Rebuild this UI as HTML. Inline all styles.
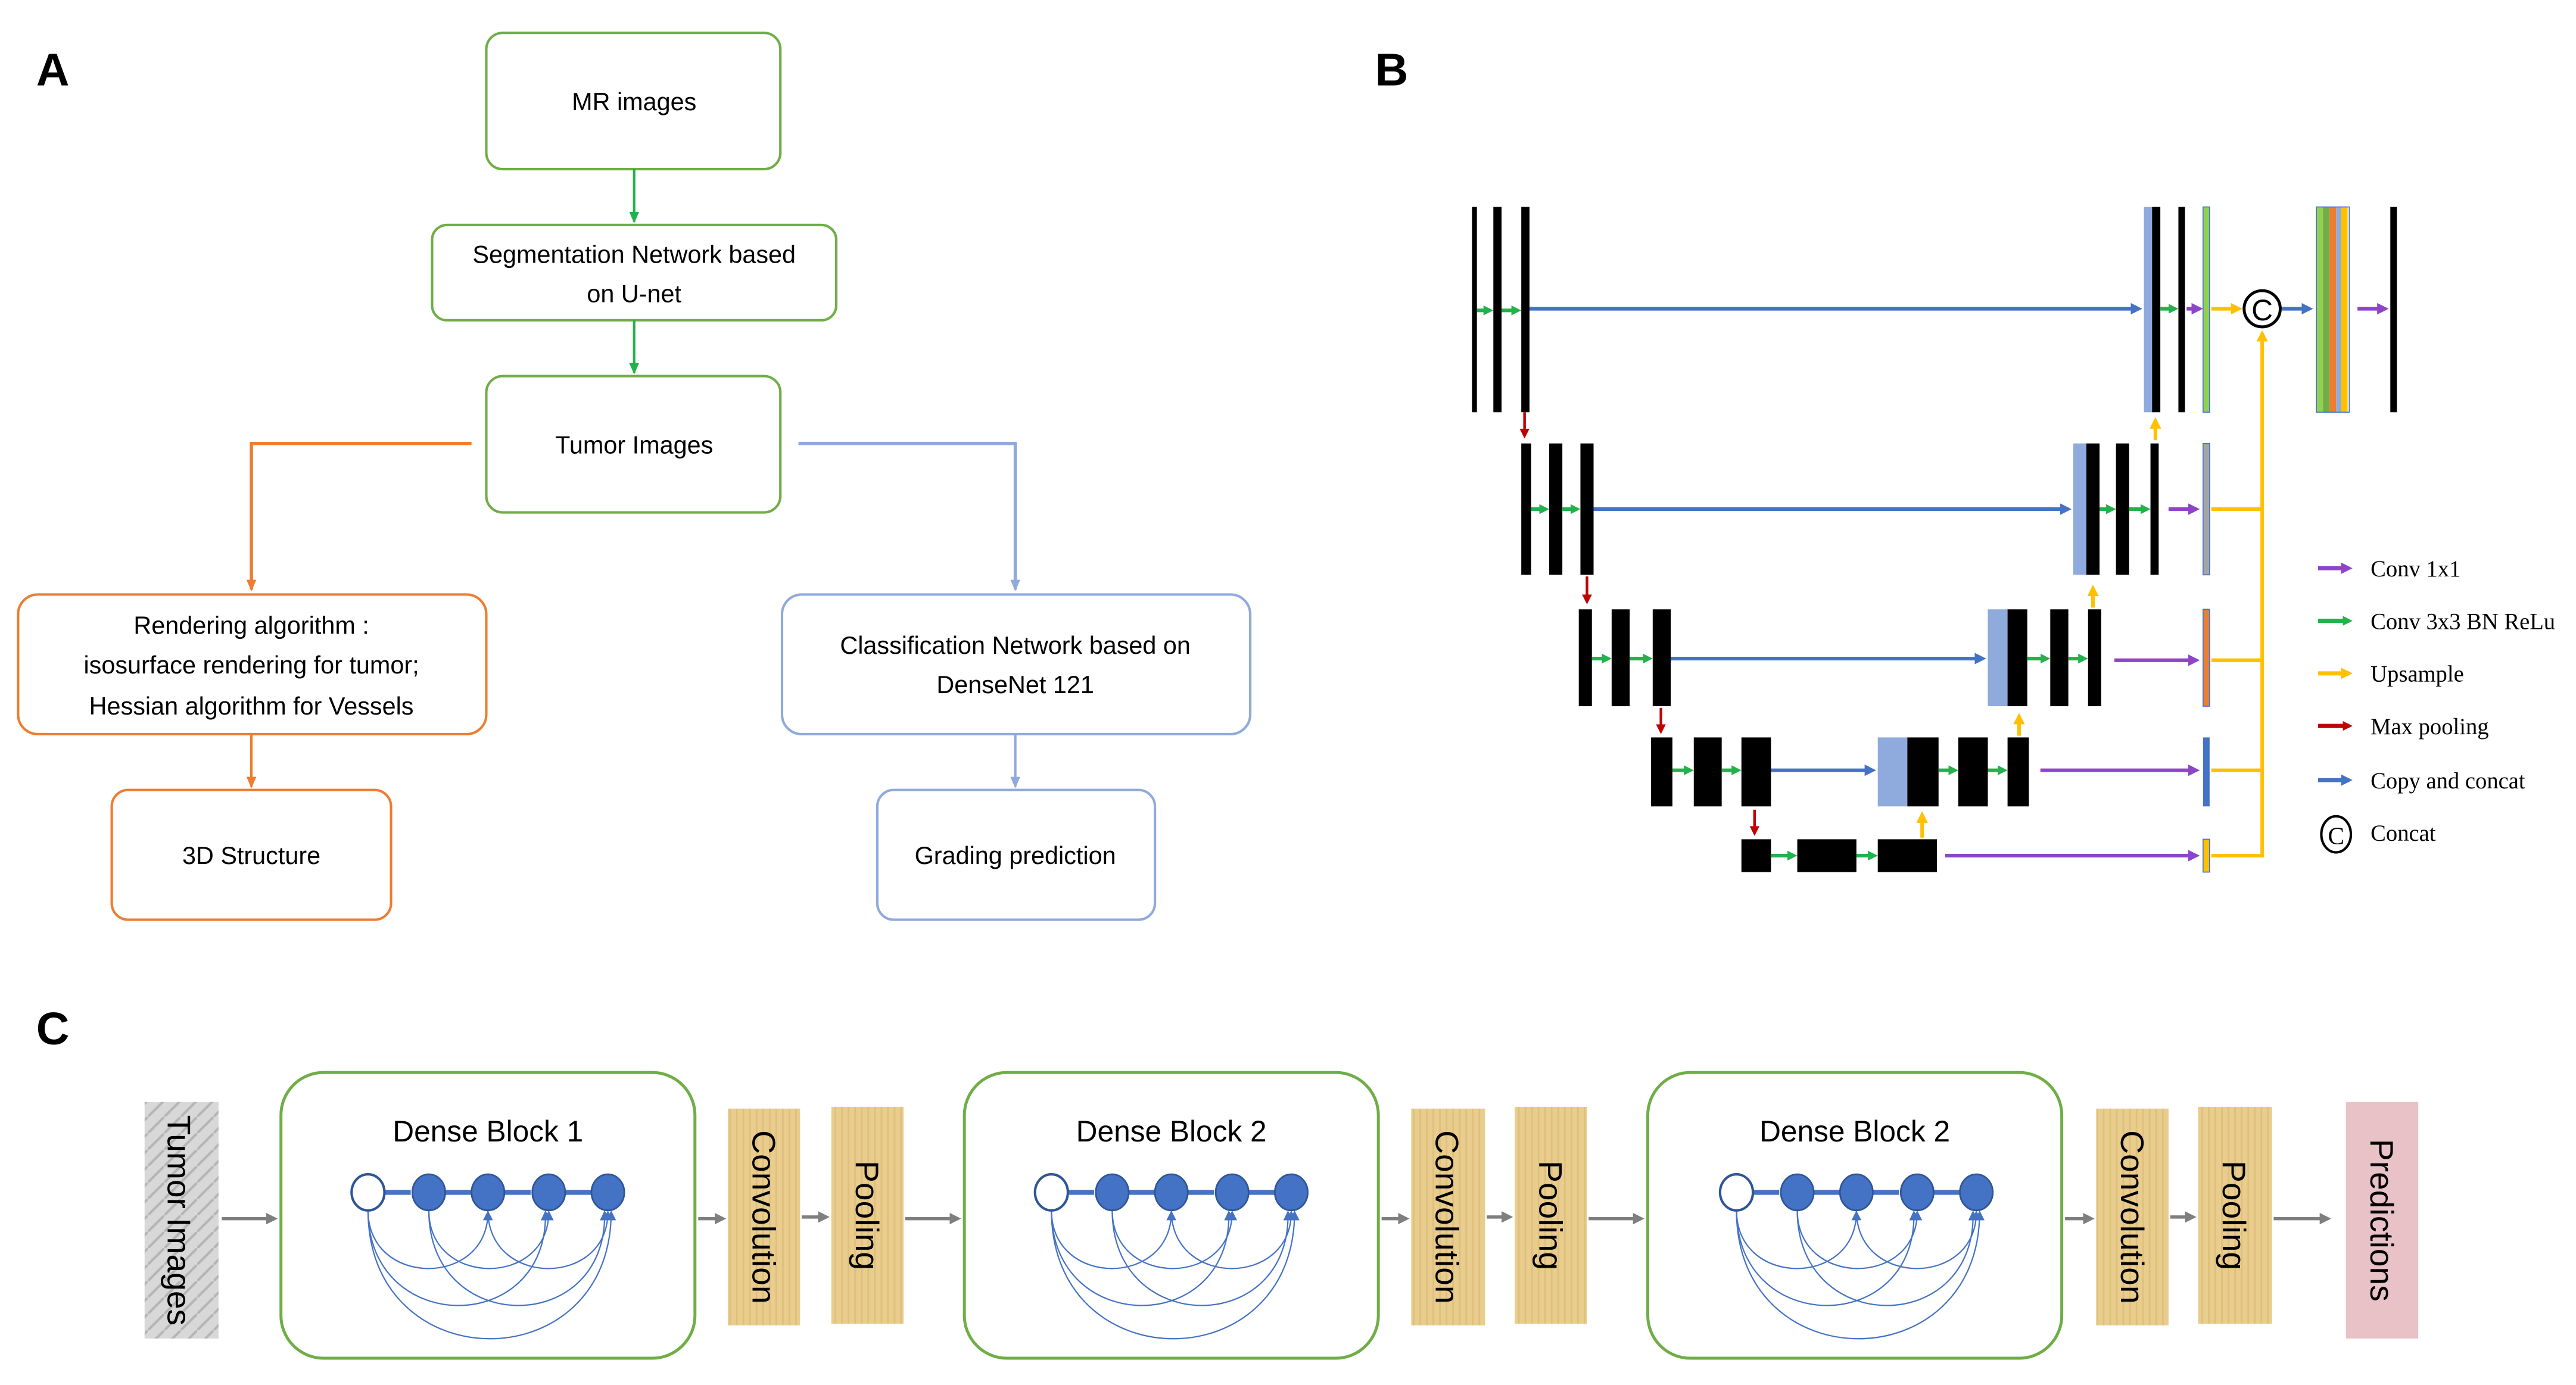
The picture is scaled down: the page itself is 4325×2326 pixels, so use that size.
<!DOCTYPE html>
<html><head><meta charset="utf-8"><style>html,body{margin:0;padding:0;background:#fff}svg{display:block}</style></head>
<body>
<svg width="4325" height="2326" viewBox="0 0 1568 843.3" xmlns="http://www.w3.org/2000/svg" font-family="Liberation Sans, sans-serif">
<defs>
<marker id="ag" markerWidth="8" markerHeight="8" refX="6" refY="4" orient="auto" markerUnits="userSpaceOnUse"><path d="M0,1 L7,4 L0,7z" fill="#22b14c"/></marker>
<marker id="ao" markerWidth="8" markerHeight="8" refX="6" refY="4" orient="auto" markerUnits="userSpaceOnUse"><path d="M0,1 L7,4 L0,7z" fill="#ed7d31"/></marker>
<marker id="ab" markerWidth="8" markerHeight="8" refX="6" refY="4" orient="auto" markerUnits="userSpaceOnUse"><path d="M0,1 L7,4 L0,7z" fill="#8faadc"/></marker>
<marker id="ad" markerWidth="6" markerHeight="6" refX="5" refY="3" orient="auto" markerUnits="userSpaceOnUse"><path d="M0,0 L6,3 L0,6z" fill="#4472c4"/></marker>
<g id="dense">
 <g fill="none" stroke="#4472c4" stroke-width="0.8">
  <path d="M224,737 C224,784 297,784 297,738" marker-end="url(#ad)"/>
  <path d="M261,737 C261,784 334,784 334,738" marker-end="url(#ad)"/>
  <path d="M297,737 C297,784 370,784 370,738" marker-end="url(#ad)"/>
  <path d="M224,737 C224,814 334,814 332,738" marker-end="url(#ad)"/>
  <path d="M261,737 C261,814 370,814 368,738" marker-end="url(#ad)"/>
  <path d="M224,737 C224,841 372,841 372,738" marker-end="url(#ad)"/>
 </g>
 <g stroke="#4472c4" stroke-width="3">
  <line x1="234" y1="726" x2="250" y2="726"/><line x1="271" y1="726" x2="287" y2="726"/><line x1="307" y1="726" x2="323" y2="726"/><line x1="344" y1="726" x2="360" y2="726"/>
 </g>
 <ellipse cx="224" cy="726" rx="10" ry="11" fill="#fff" stroke="#2f5597" stroke-width="1.5"/>
 <ellipse cx="261" cy="726" rx="10" ry="11" fill="#4472c4" stroke="#2f5597"/>
 <ellipse cx="297" cy="726" rx="10" ry="11" fill="#4472c4" stroke="#2f5597"/>
 <ellipse cx="334" cy="726" rx="10" ry="11" fill="#4472c4" stroke="#2f5597"/>
 <ellipse cx="370" cy="726" rx="10" ry="11" fill="#4472c4" stroke="#2f5597"/>
</g>
<pattern id="tan" width="4" height="4" patternUnits="userSpaceOnUse"><rect width="4" height="4" fill="#e9cd8e"/><rect width="1" height="4" fill="#dfbf7a"/></pattern>
<pattern id="marble" width="10" height="10" patternUnits="userSpaceOnUse"><rect width="10" height="10" fill="#d8d8d8"/><path d="M0,10 L10,0" stroke="#b5b5b5" stroke-width="1.5"/></pattern>
</defs>

<text x="22" y="52" font-size="28" font-weight="bold">A</text>
<g fill="#fff" stroke-width="1.5">
 <rect x="296" y="20" width="179" height="83" rx="10" stroke="#70ad47"/>
 <rect x="263" y="137" width="246" height="58" rx="9" stroke="#70ad47"/>
 <rect x="296" y="229" width="179" height="83" rx="10" stroke="#70ad47"/>
 <rect x="11" y="362" width="285" height="85" rx="12" stroke="#ed7d31"/>
 <rect x="68" y="481" width="170" height="79" rx="10" stroke="#ed7d31"/>
 <rect x="476" y="362" width="285" height="85" rx="12" stroke="#8faadc"/>
 <rect x="534" y="481" width="169" height="79" rx="10" stroke="#8faadc"/>
</g>
<g fill="none" stroke-width="1.5">
 <line x1="386" y1="103" x2="386" y2="135" stroke="#22b14c" marker-end="url(#ag)"/>
 <line x1="386" y1="195" x2="386" y2="227" stroke="#22b14c" marker-end="url(#ag)"/>
 <polyline points="287,270 153,270 153,359" stroke="#ed7d31" stroke-width="2" marker-end="url(#ao)"/>
 <line x1="153" y1="447" x2="153" y2="479" stroke="#ed7d31" marker-end="url(#ao)"/>
 <polyline points="486,270 618,270 618,359" stroke="#8faadc" stroke-width="2" marker-end="url(#ab)"/>
 <line x1="618" y1="447" x2="618" y2="479" stroke="#8faadc" marker-end="url(#ab)"/>
</g>
<g font-size="15" text-anchor="middle" fill="#000">
 <text x="386" y="67">MR images</text>
 <text x="386" y="160">Segmentation Network based</text>
 <text x="386" y="184">on U-net</text>
 <text x="386" y="276">Tumor Images</text>
 <text x="153" y="386">Rendering algorithm :</text>
 <text x="153" y="410">isosurface rendering for tumor;</text>
 <text x="153" y="435">Hessian algorithm for Vessels</text>
 <text x="153" y="526">3D Structure</text>
 <text x="618" y="398">Classification Network based on</text>
 <text x="618" y="422">DenseNet 121</text>
 <text x="618" y="526">Grading prediction</text>
</g>

<text x="837" y="52" font-size="28" font-weight="bold">B</text>
<g fill="#000">
 <rect x="896" y="126" width="3" height="125"/><rect x="909" y="126" width="5" height="125"/><rect x="926" y="126" width="5" height="125"/>
 <rect x="1305" y="126" width="6" height="125" fill="#8faadc"/><rect x="1310" y="126" width="5" height="125"/><rect x="1326" y="126" width="4" height="125"/>
 <rect x="1341" y="126" width="4" height="125" fill="#92d050" stroke="#4472c4" stroke-width="0.6"/>
 <rect x="1410" y="126" width="4" height="125" fill="#92d050"/><rect x="1414" y="126" width="4" height="125" fill="#70ad47"/><rect x="1418" y="126" width="4" height="125" fill="#ed7d31"/><rect x="1422" y="126" width="3" height="125" fill="#8faadc"/><rect x="1425" y="126" width="4" height="125" fill="#ffc000"/>
 <rect x="1410" y="126" width="20" height="125" fill="none" stroke="#4472c4" stroke-width="0.6"/>
 <rect x="1455" y="126" width="4" height="125"/>
 <rect x="926" y="270" width="6" height="80"/><rect x="943" y="270" width="8" height="80"/><rect x="962" y="270" width="8" height="80"/>
 <rect x="1262" y="270" width="8" height="80" fill="#8faadc"/><rect x="1270" y="270" width="8" height="80"/><rect x="1288" y="270" width="8" height="80"/><rect x="1309" y="270" width="5" height="80"/>
 <rect x="1341" y="270" width="4" height="80" fill="#a5a5a5" stroke="#4472c4" stroke-width="0.6"/>
 <rect x="961" y="371" width="8" height="59"/><rect x="981" y="371" width="11" height="59"/><rect x="1006" y="371" width="11" height="59"/>
 <rect x="1210" y="371" width="12" height="59" fill="#8faadc"/><rect x="1222" y="371" width="12" height="59"/><rect x="1248" y="371" width="11" height="59"/><rect x="1271" y="371" width="8" height="59"/>
 <rect x="1341" y="371" width="4" height="59" fill="#ed7d31" stroke="#4472c4" stroke-width="0.6"/>
 <rect x="1005" y="449" width="13" height="42"/><rect x="1031" y="449" width="17" height="42"/><rect x="1060" y="449" width="18" height="42"/>
 <rect x="1143" y="449" width="18" height="42" fill="#8faadc"/><rect x="1161" y="449" width="19" height="42"/><rect x="1192" y="449" width="18" height="42"/><rect x="1222" y="449" width="13" height="42"/>
 <rect x="1341" y="449" width="4" height="42" fill="#4472c4"/>
 <rect x="1060" y="511" width="18" height="20"/><rect x="1094" y="511" width="36" height="20"/><rect x="1143" y="511" width="36" height="20"/>
 <rect x="1341" y="511" width="4" height="20" fill="#ffc000" stroke="#4472c4" stroke-width="0.6"/>
</g>
<defs>
 <marker id="mG" markerWidth="6" markerHeight="6" refX="4" refY="3" orient="auto" markerUnits="userSpaceOnUse"><path d="M0,0 L6,3 L0,6z" fill="#22b14c"/></marker>
 <marker id="mB" markerWidth="7" markerHeight="7" refX="5" refY="3.5" orient="auto" markerUnits="userSpaceOnUse"><path d="M0,0 L7,3.5 L0,7z" fill="#4472c4"/></marker>
 <marker id="mP" markerWidth="7" markerHeight="7" refX="5" refY="3.5" orient="auto" markerUnits="userSpaceOnUse"><path d="M0,0 L7,3.5 L0,7z" fill="#8e44c9"/></marker>
 <marker id="mY" markerWidth="7" markerHeight="7" refX="5" refY="3.5" orient="auto" markerUnits="userSpaceOnUse"><path d="M0,0 L7,3.5 L0,7z" fill="#ffc000"/></marker>
 <marker id="mR" markerWidth="6" markerHeight="6" refX="4" refY="3" orient="auto" markerUnits="userSpaceOnUse"><path d="M0,0 L6,3 L0,6z" fill="#c00000"/></marker>
</defs>
<g fill="none" stroke-width="2.2">
 <g stroke="#22b14c">
  <line x1="899" y1="189" x2="907" y2="189" marker-end="url(#mG)"/><line x1="914" y1="189" x2="924" y2="189" marker-end="url(#mG)"/>
  <line x1="1315" y1="188" x2="1324" y2="188" marker-end="url(#mG)"/>
  <line x1="932" y1="310" x2="941" y2="310" marker-end="url(#mG)"/><line x1="951" y1="310" x2="960" y2="310" marker-end="url(#mG)"/>
  <line x1="1278" y1="310" x2="1286" y2="310" marker-end="url(#mG)"/><line x1="1296" y1="310" x2="1307" y2="310" marker-end="url(#mG)"/>
  <line x1="969" y1="401" x2="979" y2="401" marker-end="url(#mG)"/><line x1="992" y1="401" x2="1004" y2="401" marker-end="url(#mG)"/>
  <line x1="1234" y1="401" x2="1246" y2="401" marker-end="url(#mG)"/><line x1="1259" y1="401" x2="1269" y2="401" marker-end="url(#mG)"/>
  <line x1="1018" y1="469" x2="1029" y2="469" marker-end="url(#mG)"/><line x1="1048" y1="469" x2="1058" y2="469" marker-end="url(#mG)"/>
  <line x1="1180" y1="469" x2="1190" y2="469" marker-end="url(#mG)"/><line x1="1210" y1="469" x2="1220" y2="469" marker-end="url(#mG)"/>
  <line x1="1078" y1="521" x2="1092" y2="521" marker-end="url(#mG)"/><line x1="1130" y1="521" x2="1141" y2="521" marker-end="url(#mG)"/>
 </g>
 <g stroke="#4472c4">
  <line x1="931" y1="188" x2="1302" y2="188" marker-end="url(#mB)"/>
  <line x1="970" y1="310" x2="1259" y2="310" marker-end="url(#mB)"/>
  <line x1="1017" y1="401" x2="1207" y2="401" marker-end="url(#mB)"/>
  <line x1="1078" y1="469" x2="1140" y2="469" marker-end="url(#mB)"/>
  <line x1="1389" y1="188" x2="1406" y2="188" marker-end="url(#mB)"/>
 </g>
 <g stroke="#8e44c9">
  <line x1="1331" y1="188" x2="1339" y2="188" marker-end="url(#mP)"/>
  <line x1="1435" y1="188" x2="1452" y2="188" marker-end="url(#mP)"/>
  <line x1="1320" y1="310" x2="1337" y2="310" marker-end="url(#mP)"/>
  <line x1="1287" y1="402" x2="1337" y2="402" marker-end="url(#mP)"/>
  <line x1="1242" y1="469" x2="1337" y2="469" marker-end="url(#mP)"/>
  <line x1="1184" y1="521" x2="1337" y2="521" marker-end="url(#mP)"/>
 </g>
 <g stroke="#ffc000">
  <line x1="1346" y1="188" x2="1363" y2="188" marker-end="url(#mY)"/>
  <line x1="1312" y1="268" x2="1312" y2="256" marker-end="url(#mY)"/>
  <line x1="1274" y1="370" x2="1274" y2="358" marker-end="url(#mY)"/>
  <line x1="1229" y1="448" x2="1229" y2="436" marker-end="url(#mY)"/>
  <line x1="1170" y1="510" x2="1170" y2="496" marker-end="url(#mY)"/>
  <polyline points="1346,521 1377,521 1377,203" marker-end="url(#mY)"/>
  <line x1="1346" y1="310" x2="1377" y2="310"/><line x1="1346" y1="402" x2="1377" y2="402"/><line x1="1346" y1="469" x2="1377" y2="469"/>
 </g>
 <g stroke="#c00000" stroke-width="1.6">
  <line x1="928" y1="251" x2="928" y2="265" marker-end="url(#mR)"/>
  <line x1="966" y1="351" x2="966" y2="366" marker-end="url(#mR)"/>
  <line x1="1011" y1="431" x2="1011" y2="445" marker-end="url(#mR)"/>
  <line x1="1068" y1="493" x2="1068" y2="507" marker-end="url(#mR)"/>
 </g>
</g>
<circle cx="1377" cy="188" r="11" fill="#fff" stroke="#000" stroke-width="1.8"/>
<text x="1377" y="195" font-size="18" text-anchor="middle" font-family="Liberation Sans, sans-serif">C</text>
<g stroke-width="2.5" fill="none">
 <line x1="1411" y1="346" x2="1430" y2="346" stroke="#8e44c9" marker-end="url(#mP)"/>
 <line x1="1411" y1="378" x2="1430" y2="378" stroke="#22b14c" marker-end="url(#mG)"/>
 <line x1="1411" y1="410" x2="1430" y2="410" stroke="#ffc000" marker-end="url(#mY)"/>
 <line x1="1411" y1="442" x2="1430" y2="442" stroke="#c00000" marker-end="url(#mR)"/>
 <line x1="1411" y1="475" x2="1430" y2="475" stroke="#4472c4" marker-end="url(#mB)"/>
</g>
<ellipse cx="1422" cy="508" rx="9" ry="11" fill="#fff" stroke="#000" stroke-width="1.5"/>
<text x="1422" y="514" font-size="15" text-anchor="middle" font-family="Liberation Serif, serif">C</text>
<g font-family="Liberation Serif, serif" font-size="14">
 <text x="1443" y="351">Conv 1x1</text>
 <text x="1443" y="383">Conv 3x3 BN ReLu</text>
 <text x="1443" y="415">Upsample</text>
 <text x="1443" y="447">Max pooling</text>
 <text x="1443" y="480">Copy and concat</text>
 <text x="1443" y="512">Concat</text>
</g>

<text x="22" y="636" font-size="28" font-weight="bold">C</text>
<rect x="88" y="671" width="45" height="144" fill="url(#marble)"/>
<text transform="translate(102,743) rotate(90)" font-size="20" text-anchor="middle">Tumor Images</text>
<g fill="none" stroke="#70ad47" stroke-width="1.8">
 <rect x="171" y="653" width="252" height="174" rx="26"/>
 <rect x="587" y="653" width="252" height="174" rx="26"/>
 <rect x="1003" y="653" width="252" height="174" rx="26"/>
</g>
<g font-size="18" text-anchor="middle">
 <text x="297" y="695">Dense Block 1</text>
 <text x="713" y="695">Dense Block 2</text>
 <text x="1129" y="695">Dense Block 2</text>
</g>
<use href="#dense"/>
<use href="#dense" transform="translate(416,0)"/>
<use href="#dense" transform="translate(833,0)"/>
<g fill="url(#tan)">
 <rect x="443" y="675" width="44" height="132"/><rect x="506" y="674" width="44" height="132"/>
 <rect x="859" y="675" width="45" height="132"/><rect x="922" y="674" width="44" height="132"/>
 <rect x="1276" y="675" width="44" height="132"/><rect x="1338" y="674" width="45" height="132"/>
</g>
<rect x="1428" y="671" width="44" height="144" fill="#e8c2c6"/>
<g font-size="20" text-anchor="middle">
 <text transform="translate(458,741) rotate(90)">Convolution</text>
 <text transform="translate(521,740) rotate(90)">Pooling</text>
 <text transform="translate(874,741) rotate(90)">Convolution</text>
 <text transform="translate(937,740) rotate(90)">Pooling</text>
 <text transform="translate(1291,741) rotate(90)">Convolution</text>
 <text transform="translate(1353,740) rotate(90)">Pooling</text>
 <text transform="translate(1443,743) rotate(90)">Predictions</text>
</g>
<defs><marker id="mK" markerWidth="7" markerHeight="7" refX="5" refY="3.5" orient="auto" markerUnits="userSpaceOnUse"><path d="M0,0 L7,3.5 L0,7z" fill="#7f7f7f"/></marker></defs>
<g stroke="#7f7f7f" stroke-width="2" marker-end="url(#mK)">
 <line x1="135" y1="742" x2="167" y2="742"/>
 <line x1="425" y1="742" x2="440" y2="742"/>
 <line x1="488" y1="741" x2="503" y2="741"/>
 <line x1="551" y1="742" x2="583" y2="742"/>
 <line x1="841" y1="742" x2="856" y2="742"/>
 <line x1="905" y1="741" x2="919" y2="741"/>
 <line x1="967" y1="742" x2="999" y2="742"/>
 <line x1="1257" y1="742" x2="1273" y2="742"/>
 <line x1="1321" y1="741" x2="1335" y2="741"/>
 <line x1="1384" y1="742" x2="1417" y2="742"/>
</g>
</svg>
</body></html>
